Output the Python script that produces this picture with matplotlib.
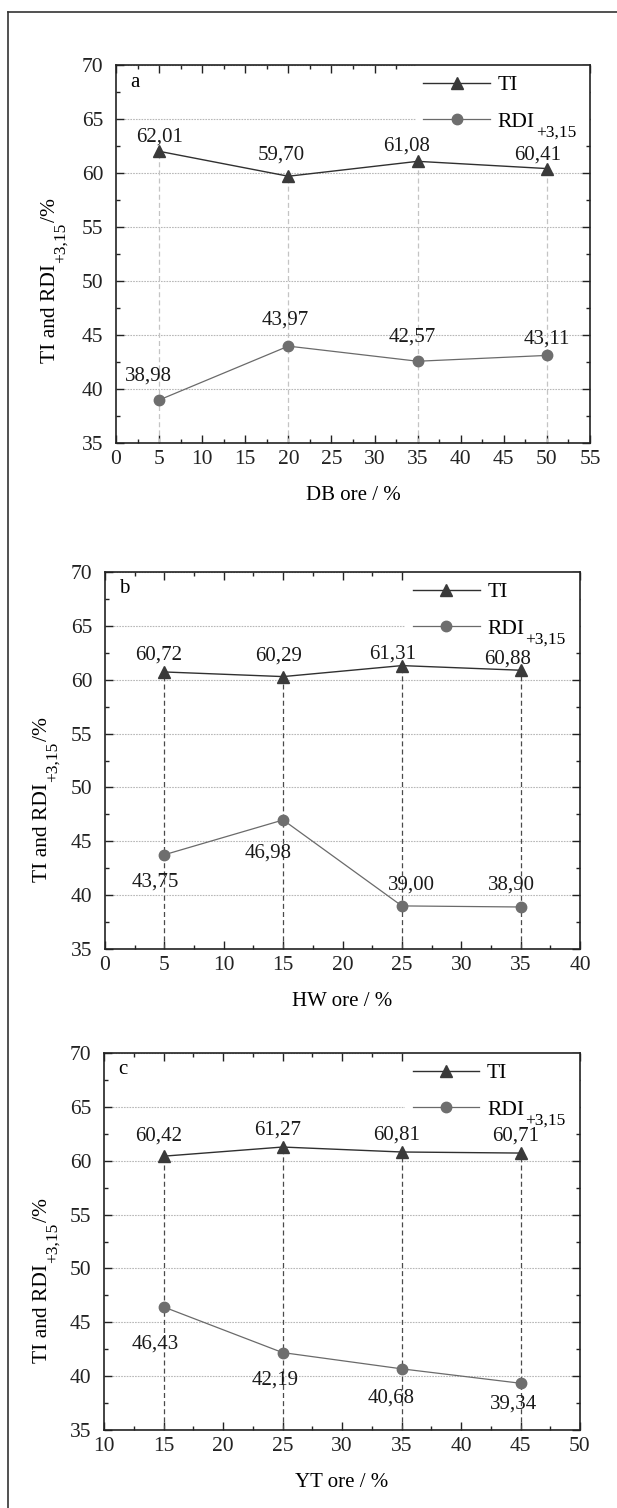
import matplotlib
matplotlib.use('Agg')
import matplotlib.pyplot as plt
from matplotlib.ticker import MultipleLocator
from matplotlib.lines import Line2D
from matplotlib.patches import Rectangle
from matplotlib.transforms import IdentityTransform

plt.rcParams['font.family'] = ['Liberation Serif', 'DejaVu Serif']

# ---- data ----
panel_tags = ['a', 'b', 'c']
ore_names = ['DB', 'HW', 'YT']

db_pct = [5, 20, 35, 50]
db_ti = [62.01, 59.70, 61.08, 60.41]
db_rdi = [38.98, 43.97, 42.57, 43.11]

hw_pct = [5, 15, 25, 35]
hw_ti = [60.72, 60.29, 61.31, 60.88]
hw_rdi = [43.75, 46.98, 39.00, 38.90]

yt_pct = [15, 25, 35, 45]
yt_ti = [60.42, 61.27, 60.81, 60.71]
yt_rdi = [46.43, 42.19, 40.68, 39.34]

x_ranges = [(0, 55), (0, 40), (10, 50)]

pcts = [db_pct, hw_pct, yt_pct]
tis = [db_ti, hw_ti, yt_ti]
rdis = [db_rdi, hw_rdi, yt_rdi]

# label offsets in pixels (dx, dy), purely cosmetic
ti_offs = [[(0, 14), (-7, 21), (-11, 15), (-9, 14)],
           [(-6, 17), (-5, 21), (-9, 12), (-13, 11)],
           [(-5, 20), (-5, 17), (-5, 17), (-5, 17)]]
rdi_offs = [[(-11, 24), (-3, 26), (-5, 24), (0, 16)],
            [(-9, -27), (-15, -33), (10, 21), (-9, 22)],
            [(-8, -37), (-7, -27), (-10, -29), (-7, -21)]]

W, H = 617, 1508
# axes boxes in pixels: left, right, top, bottom
boxes = [(116, 590, 65, 443), (105, 580, 572, 949), (104, 580, 1053, 1430)]
drop_colors = ['#c4c4c4', '#4a4a4a', '#4a4a4a']
# y label: baseline x and start y (pixels from top)
ylab_pos = [(55, 363), (47, 882), (47, 1363)]

fig = plt.figure(figsize=(W / 100, H / 100), dpi=100)
renderer = fig.canvas.get_renderer()

# outer frame, cut off on the right and bottom
fig.add_artist(Line2D([8 / W, 8 / W], [0, 1 - 12 / H], color='#333333', lw=1.2))
fig.add_artist(Line2D([8 / W, 1], [1 - 12 / H, 1 - 12 / H], color='#333333', lw=1.2))

fs = 15
fs_big = 15.5
fs_sub = 12.5
px = 0.72  # pixels -> points at dpi 100


def text_len(s, size):
	t = fig.text(0, 0, s, fontsize=size)
	w = t.get_window_extent(renderer).width
	t.remove()
	return w


legends = []
for i in range(3):
	l, r, t, b = boxes[i]
	ax = fig.add_axes([l / W, 1 - b / H, (r - l) / W, (b - t) / H])
	x, ti, rdi = pcts[i], tis[i], rdis[i]

	ax.set_xlim(*x_ranges[i])
	ax.set_ylim(35, 70)
	ax.xaxis.set_major_locator(MultipleLocator(5))
	ax.xaxis.set_minor_locator(MultipleLocator(2.5))
	ax.yaxis.set_major_locator(MultipleLocator(5))
	ax.yaxis.set_minor_locator(MultipleLocator(2.5))

	ax.grid(axis='y', which='major', color='#b8b8b8', lw=0.8, linestyle=(0, (1.5, 1)))
	ax.set_axisbelow(True)
	# white patch behind the legend hides the grid there
	ax.add_patch(Rectangle((0.632, 0.82), 0.368, 0.18, transform=ax.transAxes,
						   fc='white', ec='none', zorder=0.8))

	# drop lines from the bottom up to the TI points
	ax.vlines(x, 35, ti, colors=drop_colors[i], lw=0.9, linestyles=(0, (4, 2.5)), zorder=1)

	ax.plot(x, ti, color='#303030', lw=1.0, marker='^', ms=9, mfc='#3a3a3a', mec='#3a3a3a', label='TI', zorder=3)
	ax.plot(x, rdi, color='#6a6a6a', lw=0.9, marker='o', ms=7.5, mfc='#6e6e6e', mec='#6e6e6e',
			label='RDI', zorder=3)

	for j in range(len(x)):
		dx, dy = ti_offs[i][j]
		ax.annotate('{:.2f}'.format(ti[j]).replace('.', ','), (x[j], ti[j]),
					xytext=(dx * px, dy * px), textcoords='offset points',
					ha='center', va='center', fontsize=fs, color='#1a1a1a')
		dx, dy = rdi_offs[i][j]
		ax.annotate('{:.2f}'.format(rdi[j]).replace('.', ','), (x[j], rdi[j]),
					xytext=(dx * px, dy * px), textcoords='offset points',
					ha='center', va='center', fontsize=fs, color='#1a1a1a')

	ax.text(0.03, 0.955, panel_tags[i], transform=ax.transAxes, fontsize=fs, va='center', ha='left')

	leg = ax.legend(loc='upper left', bbox_to_anchor=(0.635, 0.99), borderaxespad=0, borderpad=0.3,
					frameon=False, handlelength=3.1, handletextpad=0.35, labelspacing=0.75, fontsize=fs_big)
	legends.append(leg)

	for s in ax.spines.values():
		s.set_color('#222222')
		s.set_linewidth(1.2)
	ax.tick_params(which='both', direction='in', top=True, right=True, width=1, colors='#222222')
	ax.tick_params(which='major', length=6)
	ax.tick_params(which='minor', length=3)
	ax.tick_params(axis='y', pad=9, labelsize=fs_big)
	ax.tick_params(axis='x', pad=5, labelsize=fs_big)

	ax.set_xlabel(ore_names[i] + ' ore / %', fontsize=fs, labelpad=12)

	# y label built from pieces so the subscript can be larger and lower
	bx, sy = ylab_pos[i]
	rot = dict(rotation=90, rotation_mode='anchor', ha='left', va='baseline')
	fig.text(bx / W, 1 - sy / H, 'TI and RDI', fontsize=fs_big, **rot)
	l1 = text_len('TI and RDI', fs_big)
	fig.text((bx + 10) / W, 1 - (sy - l1 - 1) / H, '+3,15', fontsize=fs_sub, **rot)
	l2 = text_len('+3,15', fs_sub)
	fig.text(bx / W, 1 - (sy - l1 - l2 - 2) / H, '/%', fontsize=fs_big, **rot)

# subscript for the RDI legend entries
fig.canvas.draw()
for leg in legends:
	ext = leg.get_texts()[1].get_window_extent(renderer)
	fig.text(ext.x1 + 1, ext.y0 - 5, '+3,15', fontsize=fs_sub, transform=IdentityTransform(),
			 ha='left', va='baseline')

fig.savefig('out.png', dpi=100)
